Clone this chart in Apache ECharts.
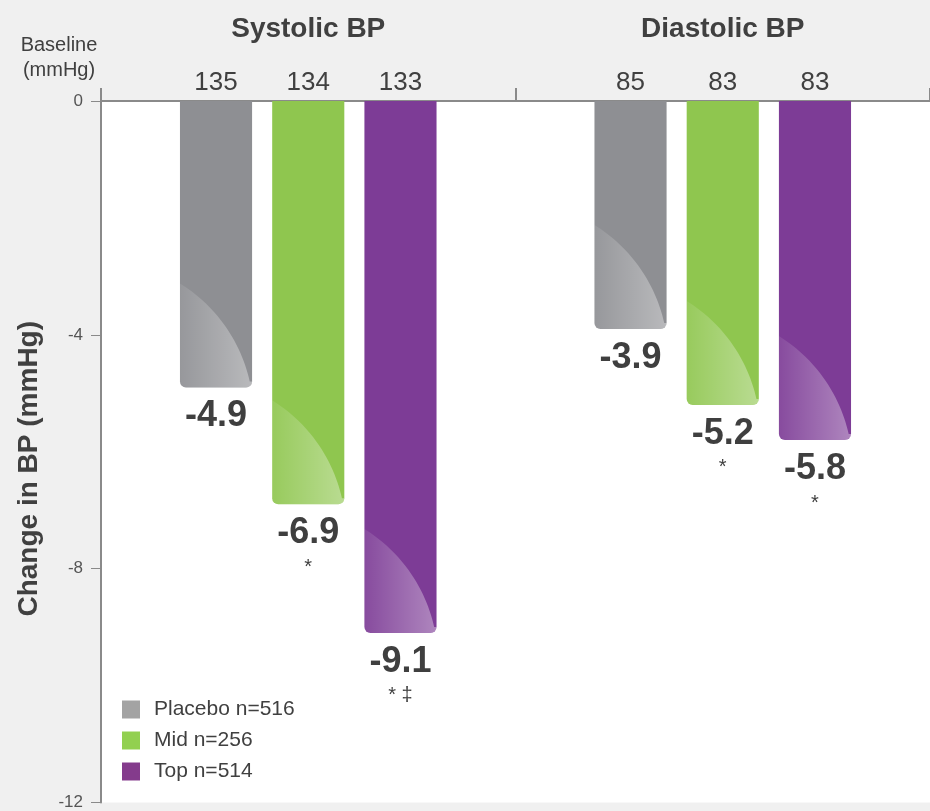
<!DOCTYPE html>
<html>
<head>
    <meta charset="utf-8">
    <title>Change in BP</title>
    <script src="https://cdn.jsdelivr.net/npm/echarts@6/dist/echarts.min.js"></script>
    <style>
        body { margin: 0; background: #f0f0f0; }
    </style>
</head>
<body>
<div id="bpChart" style="width: 930px;height:811px;"></div>

<script type="text/javascript">
    // categories / groups
    var categories = ['Systolic BP', 'Diastolic BP'];
    var groupNames = ['Placebo n=516', 'Mid n=256', 'Top n=514'];

    // change from baseline (mmHg)
    var placeboChange = [-4.9, -3.9];
    var midChange = [-6.9, -5.2];
    var topChange = [-9.1, -5.8];

    // baseline values shown above each bar
    var placeboBaseline = [135, 85];
    var midBaseline = [134, 83];
    var topBaseline = [133, 83];

    // significance marks under the value labels
    var placeboNote = ['', ''];
    var midNote = ['*', '*'];
    var topNote = ['* ‡', '*'];

    var yMin = -12;
    var yMax = 0;
    var yStep = 4;

    var changes = [placeboChange, midChange, topChange];
    var baselines = [placeboBaseline, midBaseline, topBaseline];
    var notes = [placeboNote, midNote, topNote];
    var barColors = ['#8e8f93', '#8fc64f', '#7d3c96'];
    var legendColors = ['#a3a3a3', '#92d050', '#843b8c'];
    var fontFamily = '"Liberation Sans", Arial, sans-serif';

    var bpChart = echarts.init(document.getElementById('bpChart'));

    function renderBar(params, api) {
        var si = params.seriesIndex;
        var cat = api.value(0);
        var val = api.value(1);
        var zero = api.coord([cat, 0]);
        var end = api.coord([cat, val]);
        var band = api.size([1, 0])[0];
        var w = band * 0.174;
        var step = band * 0.2225;
        var cx = zero[0] + (si - 1) * step;
        var x = cx - w / 2;
        var y0 = zero[1];
        var y1 = end[1];
        var h = y1 - y0;
        var r = 6;

        // curved light highlight in the lower part of the bar (arc of a circle centred down-left)
        var hl = Math.min(104, h);
        var top = y1 - hl;
        var ca = -1.135 * w, cb = 1.27 * hl;
        var R = Math.sqrt(ca * ca + cb * cb);
        var pts = [];
        for (var k = 0; k <= 24; k++) {
            var yy = k / 24 * (hl - r);
            var d = R * R - (yy - cb) * (yy - cb);
            var xx = ca + Math.sqrt(Math.max(d, 0));
            pts.push([x + Math.min(xx, w), top + yy]);
        }
        for (var a = 0; a <= 8; a++) {
            var ang = a / 8 * Math.PI / 2;
            pts.push([x + w - r + r * Math.cos(ang), y1 - r + r * Math.sin(ang)]);
        }
        for (var b = 0; b <= 8; b++) {
            var ang2 = Math.PI / 2 + b / 8 * Math.PI / 2;
            pts.push([x + r + r * Math.cos(ang2), y1 - r + r * Math.sin(ang2)]);
        }

        var children = [
            {
                type: 'rect',
                shape: { x: x, y: y0, width: w, height: h, r: [0, 0, r, r] },
                style: { fill: barColors[si] }
            },
            {
                type: 'polygon',
                shape: { points: pts },
                style: {
                    fill: new echarts.graphic.LinearGradient(0, 0, 1, 0, [
                        { offset: 0, color: 'rgba(255,255,255,0.08)' },
                        { offset: 1, color: 'rgba(255,255,255,0.38)' }
                    ])
                }
            },
            {
                type: 'text',
                x: cx,
                y: y0 - 18,
                style: {
                    text: String(baselines[si][params.dataIndex]),
                    font: '26px ' + fontFamily,
                    fill: '#404040',
                    align: 'center',
                    verticalAlign: 'middle'
                }
            },
            {
                type: 'text',
                x: cx,
                y: y1 + 29,
                style: {
                    text: val.toFixed(1),
                    font: 'bold 36px ' + fontFamily,
                    fill: '#3f3f3f',
                    align: 'center',
                    verticalAlign: 'middle'
                }
            }
        ];
        var note = notes[si][params.dataIndex];
        if (note) {
            children.push({
                type: 'text',
                x: cx,
                y: y1 + 53,
                style: {
                    text: note,
                    font: '20px ' + fontFamily,
                    fill: '#3f3f3f',
                    align: 'center',
                    verticalAlign: 'top'
                }
            });
        }
        return { type: 'group', children: children };
    }

    var series = groupNames.map(function (name, si) {
        return {
            name: name,
            type: 'custom',
            renderItem: renderBar,
            encode: { x: 0, y: 1 },
            itemStyle: { color: legendColors[si] },
            data: categories.map(function (c, i) {
                return [i, changes[si][i]];
            })
        };
    });

    var option = {
        backgroundColor: '#f0f0f0',
        animation: false,
        grid: {
            left: 101,
            right: -1,
            top: 101,
            bottom: 4,
            show: true,
            backgroundColor: '#ffffff',
            borderWidth: 0
        },
        legend: {
            orient: 'vertical',
            left: 117,
            top: 694,
            icon: 'rect',
            itemWidth: 18,
            itemHeight: 18,
            itemGap: 10,
            data: groupNames,
            textStyle: {
                fontSize: 21,
                color: '#404040',
                fontFamily: fontFamily,
                padding: [0, 0, 0, 9]
            }
        },
        graphic: [{
            type: 'text',
            x: 59,
            y: 33,
            style: {
                text: 'Baseline\n(mmHg)',
                font: '20px ' + fontFamily,
                fill: '#404040',
                align: 'center',
                lineHeight: 25
            }
        }],
        xAxis: {
            type: 'category',
            position: 'top',
            data: categories,
            axisLine: { lineStyle: { color: '#8a8a8a', width: 2 } },
            axisTick: { show: true, length: 13, lineStyle: { color: '#8a8a8a', width: 2 } },
            axisLabel: {
                margin: 58,
                fontSize: 28,
                fontWeight: 'bold',
                color: '#404040',
                fontFamily: fontFamily
            }
        },
        yAxis: {
            type: 'value',
            min: yMin,
            max: yMax,
            interval: yStep,
            name: 'Change in BP (mmHg)',
            nameLocation: 'middle',
            nameGap: 58,
            nameTextStyle: {
                fontSize: 28,
                fontWeight: 'bold',
                color: '#404040',
                fontFamily: fontFamily,
                padding: [0, 34, 0, 0]
            },
            axisLine: { show: true, lineStyle: { color: '#8a8a8a', width: 2 } },
            axisTick: { show: true, length: 10, lineStyle: { color: '#8a8a8a', width: 1 } },
            splitLine: { show: false },
            axisLabel: {
                margin: 18,
                fontSize: 17,
                color: '#555555',
                fontFamily: fontFamily
            }
        },
        series: series
    };

    bpChart.setOption(option);
</script>
</body>
</html>
